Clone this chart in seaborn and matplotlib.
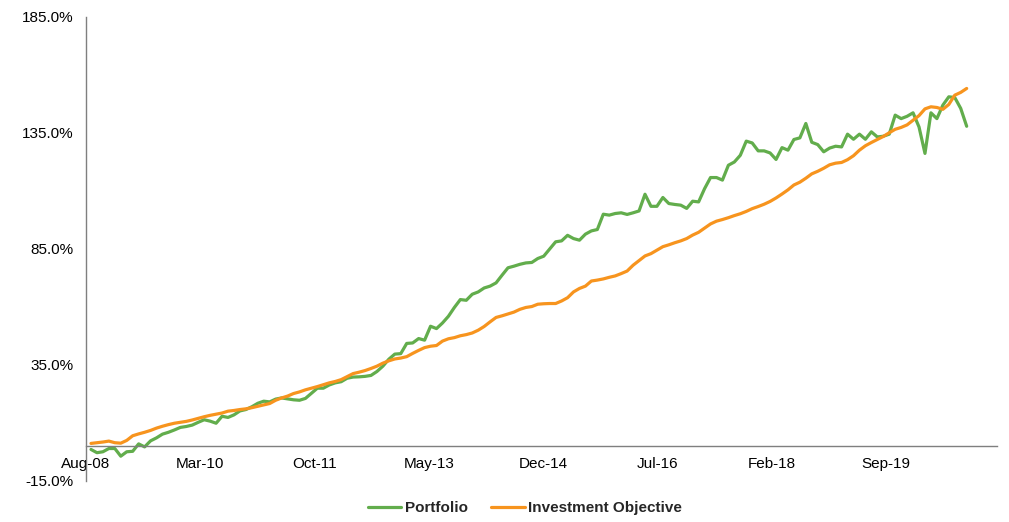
import numpy as np
import matplotlib
matplotlib.use('Agg')
import matplotlib.pyplot as plt
import seaborn as sns

sns.set_style('white')
plt.rcParams['font.family'] = ['Liberation Sans', 'DejaVu Sans']

# cumulative return (%), monthly from Aug-08
portfolio = [
    -1.4, -2.8, -2.4, -1.0, -1.0, -4.3, -2.4, -2.2, 1.0, -0.3,
    2.3, 3.6, 5.2, 6.0, 7.0, 8.1, 8.5, 9.1, 10.3, 11.4,
    10.8, 9.9, 12.9, 12.4, 13.5, 15.2, 15.8, 17.0, 18.5, 19.4,
    19.1, 20.3, 20.8, 20.4, 20.0, 19.8, 20.6, 22.8, 25.0, 25.0,
    26.4, 27.3, 27.8, 29.3, 29.8, 29.9, 30.1, 30.5, 32.2, 34.5,
    37.5, 39.7, 39.9, 44.3, 44.5, 46.4, 45.7, 51.7, 50.7, 53.1,
    56.0, 59.8, 63.2, 62.9, 65.5, 66.5, 68.2, 69.0, 70.4, 73.7,
    76.9, 77.6, 78.4, 79.0, 79.2, 80.9, 81.9, 85.0, 88.1, 88.5,
    90.9, 89.5, 88.8, 91.4, 92.8, 93.4, 100.0, 99.6, 100.3, 100.6,
    99.9, 100.6, 101.4, 108.6, 103.4, 103.4, 107.2, 104.6, 104.2, 103.9,
    102.5, 105.6, 105.3, 111.0, 115.8, 115.8, 114.7, 121.1, 122.5, 125.4,
    131.5, 130.7, 127.3, 127.3, 126.4, 123.6, 128.7, 127.6, 132.2, 132.9,
    139.1, 131.0, 130.0, 126.9, 128.5, 129.3, 129.0, 134.5, 132.3, 134.5,
    132.3, 135.5, 133.3, 133.6, 134.5, 142.7, 141.2, 142.2, 143.7, 137.6,
    126.2, 143.7, 141.2, 147.0, 150.6, 150.3, 145.6, 137.9,
]
objective = [
    1.2, 1.5, 1.8, 2.2, 1.5, 1.3, 2.5, 4.5, 5.3, 6.0,
    6.8, 7.8, 8.6, 9.3, 9.9, 10.3, 10.7, 11.3, 12.0, 12.7,
    13.3, 13.8, 14.3, 15.1, 15.4, 15.8, 16.1, 16.6, 17.2, 17.8,
    18.4, 19.8, 20.8, 21.6, 22.7, 23.4, 24.3, 25.0, 25.7, 26.5,
    27.3, 27.9, 28.7, 30.0, 31.3, 31.9, 32.6, 33.5, 34.5, 35.8,
    36.8, 37.6, 38.0, 38.6, 40.0, 41.3, 42.5, 43.1, 43.4, 45.3,
    46.3, 46.8, 47.6, 48.1, 48.8, 50.0, 51.6, 53.6, 55.5, 56.2,
    57.0, 57.8, 59.0, 59.8, 60.2, 61.2, 61.4, 61.5, 61.5, 62.6,
    64.0, 66.5, 68.0, 69.0, 71.2, 71.6, 72.1, 72.8, 73.4, 74.4,
    75.5, 78.0, 80.0, 82.0, 83.0, 84.5, 86.0, 86.8, 87.7, 88.5,
    89.5, 91.0, 92.2, 94.0, 95.8, 97.0, 97.7, 98.5, 99.4, 100.2,
    101.2, 102.4, 103.3, 104.3, 105.5, 107.0, 108.7, 110.5, 112.6, 113.8,
    115.5, 117.4, 118.5, 119.8, 121.3, 122.0, 122.3, 123.5, 125.2, 127.6,
    129.5, 130.9, 132.2, 133.5, 135.1, 136.6, 137.4, 138.5, 140.5, 142.5,
    145.4, 146.3, 146.0, 145.2, 147.3, 151.3, 152.5, 154.2,
]
tick_labels = ['Aug-08', 'Mar-10', 'Oct-11', 'May-13', 'Dec-14', 'Jul-16', 'Feb-18', 'Sep-19']
tick_months = [0, 19, 38, 57, 76, 95, 114, 133]
y_ticks = [-15, 35, 85, 135, 185]

green = '#62AD4C'
orange = '#F7941E'

# points sit at month ends, a bit after the month-start ticks
x = 0.83 + np.arange(len(portfolio)) * 0.99

fig = plt.figure(figsize=(10.09, 5.22), dpi=100)
ax = fig.add_axes([86 / 1009, 41 / 522, 911 / 1009, 464 / 522])

sns.lineplot(x=x, y=portfolio, color=green, linewidth=2.3, label='Portfolio', ax=ax)
sns.lineplot(x=x, y=objective, color=orange, linewidth=2.3, label='Investment Objective', ax=ax)

ax.set_xlim(0, 151.4)
ax.set_ylim(-15, 185)
ax.spines['top'].set_visible(False)
ax.spines['right'].set_visible(False)
ax.spines['bottom'].set_position(('data', 0))
for s in ['left', 'bottom']:
    ax.spines[s].set_color('#7f7f7f')
    ax.spines[s].set_linewidth(1.0)

ax.set_xticks(tick_months)
ax.set_xticklabels(tick_labels)
ax.set_yticks(y_ticks)
ax.set_yticklabels([f'{v:.1f}%' for v in y_ticks])
ax.tick_params(axis='both', direction='out', length=4, width=1, color='#7f7f7f',
               labelsize=11, labelcolor='black')
ax.tick_params(axis='x', pad=4)
ax.tick_params(axis='y', pad=5)
ax.set_xlabel('')
ax.set_ylabel('')

handles, labels = ax.get_legend_handles_labels()
ax.get_legend().remove()
fig.legend(handles, labels, loc='center', bbox_to_anchor=(525 / 1009, 1 - 508 / 522),
           ncol=2, frameon=False, handlelength=2.2, columnspacing=1.5, handletextpad=0.25,
           prop={'weight': 'bold', 'size': 11})

fig.savefig('out.png', dpi=100)
